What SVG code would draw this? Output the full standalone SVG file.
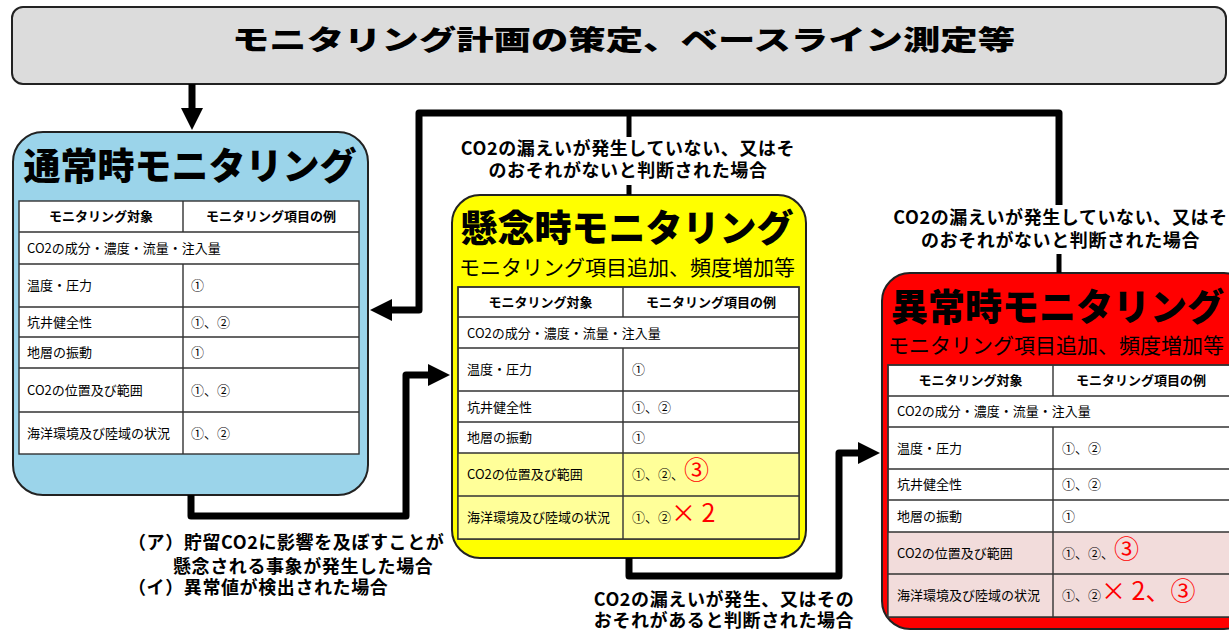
<svg xmlns="http://www.w3.org/2000/svg" width="1229" height="630" viewBox="0 0 1229 630">
<defs>
<style>
text{font-family:"Noto Sans CJK JP","Noto Sans",sans-serif;fill:#000}
.box{stroke:#222;stroke-width:2}
.tbl{fill:#fff;stroke:#333;stroke-width:1.4}
.tl{stroke:#333;stroke-width:1.4;fill:none}
.title{font-size:37px;font-weight:900}
.sub{font-size:21px}
.th{font-size:13px;font-weight:700;text-anchor:middle}
.td{font-size:13px}
.red{fill:#ff0000}
.big{font-size:25px}
.lbl{font-size:18px;font-weight:700;letter-spacing:0.6px}
.mid{text-anchor:middle}
.conn{fill:none;stroke:#000;stroke-width:7;stroke-linejoin:round}
.stub{fill:none;stroke:#000;stroke-width:5}
</style>
<marker id="ah" viewBox="0 0 22 22" refX="1" refY="11" markerWidth="22" markerHeight="22" markerUnits="userSpaceOnUse" orient="auto">
<path d="M0,0 L22,11 L0,22 z" fill="#000"/>
</marker>
</defs>
<rect width="1229" height="630" fill="#fff"/>

<g id="banner">
<rect x="12" y="7" width="1214" height="77" rx="11" fill="#dcdcdc" class="box"/>
<g transform="translate(623.5,50) scale(1.36,1)">
<text x="0" y="0" font-size="27.5" font-weight="900" text-anchor="middle">モニタリング計画の策定、ベースライン測定等</text>
</g>
</g>

<g id="normal-monitoring">
<rect x="13" y="132" width="355" height="363" rx="30" fill="#9bd4ea" class="box"/>
<text x="190" y="180" class="title mid">通常時モニタリング</text>
<rect x="19" y="201" width="340" height="253" class="tbl"/>
<path class="tl" d="M19,232H359M19,264H359M19,307H359M19,337H359M19,368H359M19,412H359M183,201V232M183,264V454"/>
<text x="101" y="221" class="th">モニタリング対象</text>
<text x="271" y="221" class="th">モニタリング項目の例</text>
<text x="27" y="252.5" class="td">CO2の成分・濃度・流量・注入量</text>
<text x="27" y="290" class="td">温度・圧力</text><text x="191" y="290" class="td">①</text>
<text x="27" y="326.5" class="td">坑井健全性</text><text x="191" y="326.5" class="td">①、②</text>
<text x="27" y="357" class="td">地層の振動</text><text x="191" y="357" class="td">①</text>
<text x="27" y="394.5" class="td">CO2の位置及び範囲</text><text x="191" y="394.5" class="td">①、②</text>
<text x="27" y="437.5" class="td">海洋環境及び陸域の状況</text><text x="191" y="437.5" class="td">①、②</text>
</g>

<g id="concern-monitoring">
<rect x="452" y="195" width="354" height="363" rx="28" fill="#ffff00" class="box"/>
<text x="627" y="242" class="title mid">懸念時モニタリング</text>
<text x="627" y="274.5" class="sub mid">モニタリング項目追加、頻度増加等</text>
<rect x="458" y="287" width="341" height="252" class="tbl"/>
<rect x="458" y="453" width="341" height="86" fill="#ffff99"/>
<path class="tl" d="M458,287H799V539H458ZM458,317H799M458,348H799M458,391H799M458,422H799M458,453H799M458,496H799M623,287V317M623,348V539"/>
<text x="540.5" y="307" class="th">モニタリング対象</text>
<text x="711" y="307" class="th">モニタリング項目の例</text>
<text x="467" y="337.5" class="td">CO2の成分・濃度・流量・注入量</text>
<text x="467" y="374" class="td">温度・圧力</text><text x="632" y="374" class="td">①</text>
<text x="467" y="411.5" class="td">坑井健全性</text><text x="632" y="411.5" class="td">①、②</text>
<text x="467" y="442" class="td">地層の振動</text><text x="632" y="442" class="td">①</text>
<text x="467" y="479" class="td">CO2の位置及び範囲</text><text x="632" y="479" class="td">①、②、<tspan class="red big">③</tspan></text>
<text x="467" y="522" class="td">海洋環境及び陸域の状況</text><text x="632" y="522" class="td">①、②<tspan class="red big">× 2</tspan></text>
</g>

<g id="abnormal-monitoring">
<rect x="882" y="273" width="370" height="356" rx="28" fill="#ff0000" class="box"/>
<text x="891" y="321" class="title">異常時モニタリング</text>
<text x="888" y="352.5" class="sub">モニタリング項目追加、頻度増加等</text>
<rect x="888" y="365" width="342" height="252" class="tbl"/>
<rect x="888" y="532" width="342" height="85" fill="#f2dcdb"/>
<path class="tl" d="M888,365H1230V617H888ZM888,396H1230M888,427H1230M888,469H1230M888,500H1230M888,532H1230M888,574H1230M1053,365V396M1053,427V617"/>
<text x="970.5" y="385" class="th">モニタリング対象</text>
<text x="1141" y="385" class="th">モニタリング項目の例</text>
<text x="897" y="416" class="td">CO2の成分・濃度・流量・注入量</text>
<text x="897" y="452.5" class="td">温度・圧力</text><text x="1062" y="452.5" class="td">①、②</text>
<text x="897" y="489" class="td">坑井健全性</text><text x="1062" y="489" class="td">①、②</text>
<text x="897" y="520.5" class="td">地層の振動</text><text x="1062" y="520.5" class="td">①</text>
<text x="897" y="557.5" class="td">CO2の位置及び範囲</text><text x="1062" y="557.5" class="td">①、②、<tspan class="red big">③</tspan></text>
<text x="897" y="600" class="td">海洋環境及び陸域の状況</text><text x="1062" y="600" class="td">①、②<tspan class="red big">× 2、③</tspan></text>
</g>

<g id="connectors">
<path class="conn" d="M192,84V109" marker-end="url(#ah)"/>
<path class="conn" d="M191,495V516H406V375H429" marker-end="url(#ah)"/>
<path class="conn" d="M1059,205V113H419V310H391" marker-end="url(#ah)"/>
<path class="stub" d="M629,113V137M629,185V195M1059,254V273"/>
<path class="conn" d="M629,558V576H839V453H859" marker-end="url(#ah)"/>
</g>

<g id="connector-labels">
<text x="628" y="154.5" class="lbl mid">CO2の漏えいが発生していない、又はそ</text>
<text x="628" y="177" class="lbl mid">のおそれがないと判断された場合</text>
<text x="1060.5" y="223.5" class="lbl mid">CO2の漏えいが発生していない、又はそ</text>
<text x="1060.5" y="246.5" class="lbl mid">のおそれがないと判断された場合</text>
<text x="128" y="548.5" class="lbl">（ア）貯留CO2に影響を及ぼすことが</text>
<text x="173" y="572.5" class="lbl">懸念される事象が発生した場合</text>
<text x="128" y="593.5" class="lbl">（イ）異常値が検出された場合</text>
<text x="724" y="605.5" class="lbl mid">CO2の漏えいが発生、又はその</text>
<text x="724" y="626.5" class="lbl mid">おそれがあると判断された場合</text>
</g>
</svg>
